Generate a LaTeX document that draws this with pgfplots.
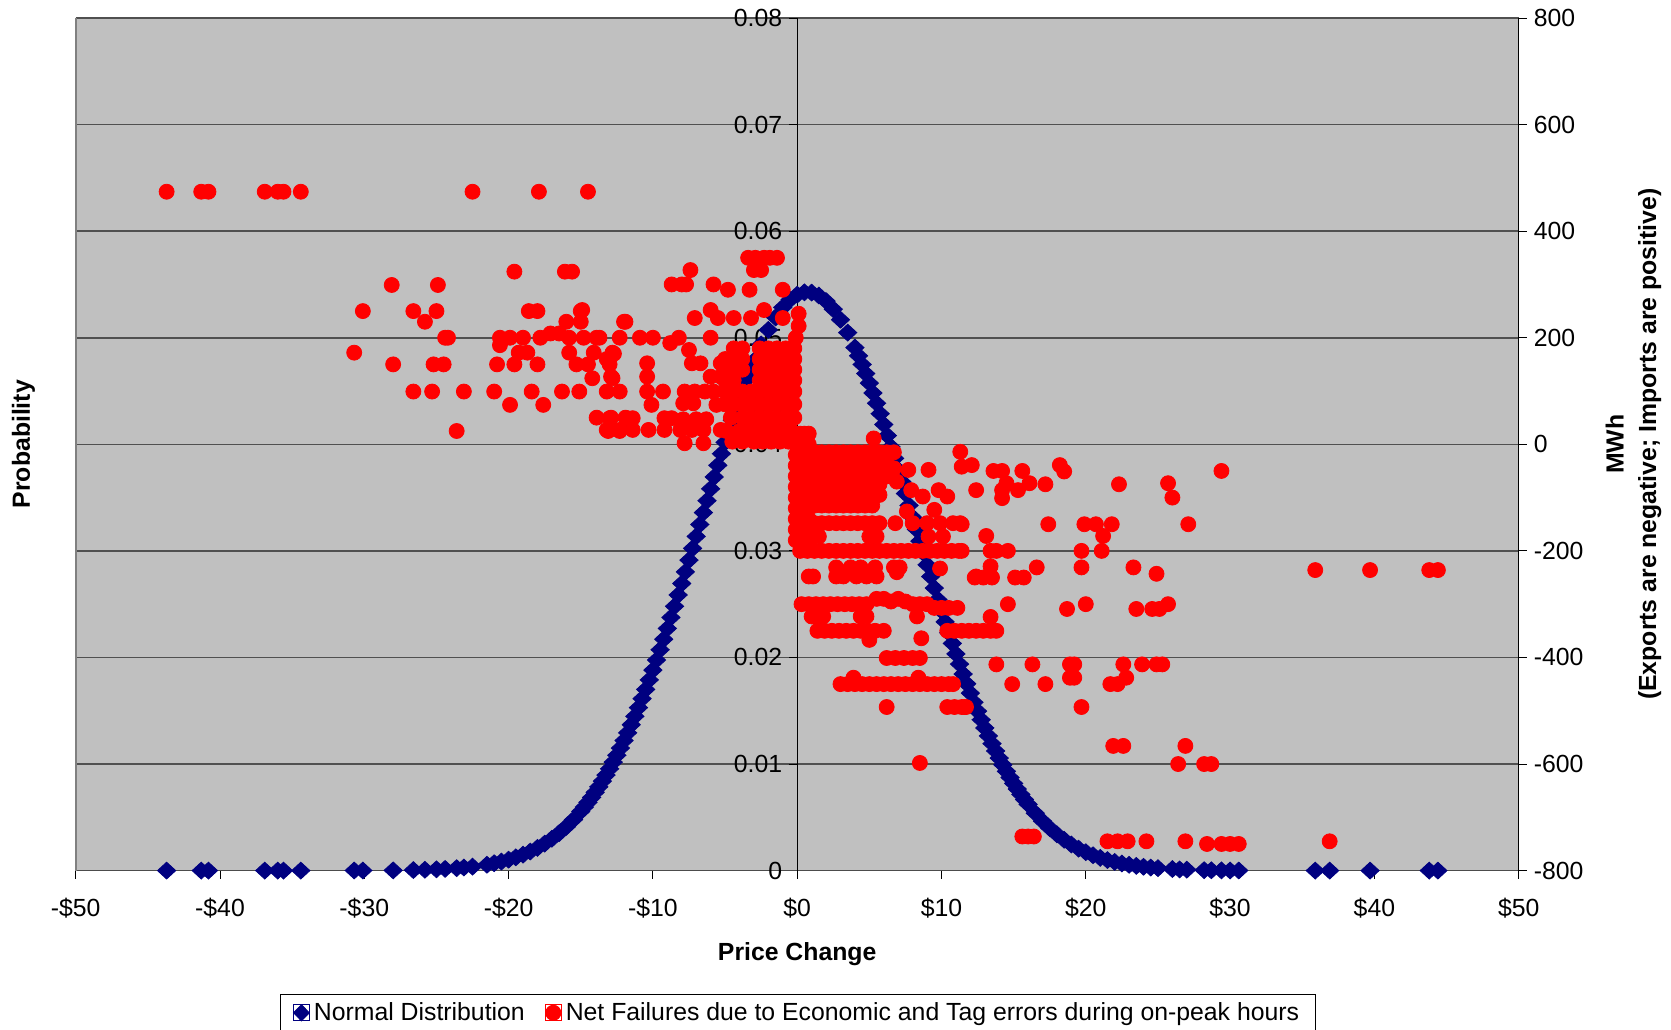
\documentclass[border=0pt]{standalone}
\usepackage{fontspec}
\setmainfont{Liberation Sans}
\usepackage{pgfplots}
\pgfplotsset{compat=1.18}
\definecolor{bgc}{RGB}{192,192,192}
\definecolor{navyb}{RGB}{0,0,128}
\definecolor{gridc}{RGB}{80,80,80}
\definecolor{redc}{RGB}{255,0,0}

\pgfplotstableread{
x y
-43.7 0
-41.3 0
-40.8 0
-36.9 0
-36.0 0
-35.6 0
-34.4 0
-30.7 0.00001
-30.1 0.00001
-28.0 0.00002
-26.6 0.00005
-25.8 0.00008
-25.0 0.00012
-24.4 0.00016
-23.6 0.00023
-23.1 0.00029
-22.5 0.00037
-21.5 0.00055
-21.0 0.000695
-20.5 0.000847
-20.0 0.001029
-19.5 0.001244
-19.0 0.001496
-18.5 0.001790
-18.0 0.002133
-17.5 0.002529
-17.0 0.002988
-16.5 0.003512
-16.0 0.004110
-15.5 0.004784
-15.0 0.005548
-14.75 0.005961
-14.5 0.006400
-14.25 0.006861
-14.0 0.007345
-13.75 0.007860
-13.5 0.008397
-13.25 0.008962
-13.0 0.009553
-12.75 0.010178
-12.5 0.010823
-12.25 0.011497
-12.0 0.012202
-11.75 0.012930
-11.5 0.013689
-11.25 0.014477
-11.0 0.015291
-10.75 0.016132
-10.5 0.017001
-10.25 0.017896
-10.0 0.018813
-9.75 0.019758
-9.5 0.020724
-9.25 0.021712
-9.0 0.022722
-8.75 0.023753
-8.5 0.024801
-8.25 0.025864
-8.0 0.026939
-7.75 0.028030
-7.5 0.029132
-7.25 0.030239
-7.0 0.031358
-6.75 0.032476
-6.5 0.033594
-6.25 0.034712
-6.0 0.035825
-5.75 0.036938
-5.5 0.038029
-5.25 0.039114
-5.0 0.040183
-4.75 0.041237
-4.5 0.042262
-4.25 0.043267
-4.0 0.044244
-3.75 0.045188
-3.5 0.046100
-3.25 0.046979
-3.0 0.047821
-2.5 0.049373
-2.0 0.050736
-1.5 0.051902
-1.0 0.052847
-0.5 0.053563
0.0 0.054036
0.5 0.054260
1.0 0.054235
1.5 0.053960
2.0 0.053439
2.5 0.052679
3.0 0.051686
3.5 0.050480
4.0 0.049075
4.25 0.048304
4.5 0.047490
4.75 0.046637
5.0 0.045742
5.25 0.044814
5.5 0.043853
5.75 0.042870
6.0 0.041855
6.25 0.040819
6.5 0.039760
6.75 0.038685
7.0 0.037594
7.25 0.036492
7.5 0.035380
7.75 0.034267
8.0 0.033149
8.25 0.032031
8.5 0.030912
8.75 0.029800
9.0 0.028692
9.25 0.027591
9.5 0.026510
9.75 0.025436
10.0 0.024377
10.25 0.023340
10.5 0.022315
10.75 0.021316
11.0 0.020333
11.25 0.019378
11.5 0.018444
11.75 0.017532
12.0 0.016653
12.25 0.015790
12.5 0.014965
12.75 0.014156
13.0 0.013385
13.25 0.012636
13.5 0.011914
13.75 0.011225
14.0 0.010557
14.25 0.009928
14.5 0.009314
14.75 0.008734
15.0 0.008180
15.25 0.007653
15.5 0.007149
15.75 0.006671
16.0 0.006221
16.5 0.005385
17.0 0.004641
17.5 0.003984
18.0 0.003403
18.5 0.002893
19.0 0.002447
19.5 0.002061
20.0 0.001728
20.5 0.001442
21.0 0.001197
21.5 0.000990
22.0 0.000815
22.5 0.000667
23.0 0.000544
23.5 0.000442
24.0 0.000357
24.5 0.000287
25.0 0.000230
26.0 0.000145
26.5 0.00011
27.0 0.00009
28.2 0.00004
28.7 0.00003
29.4 0.00002
30.0 0.00001
30.6 0.00001
35.9 0
36.9 0
39.7 0
43.8 0
44.4 0
}\normaldist

\pgfplotstableread{
x y
-43.7 474
-41.3 474
-40.8 474
-36.9 474
-36.0 474
-35.6 474
-34.4 474
-22.5 474
-17.9 474
-14.5 474
-19.6 324
-16.1 324
-15.6 324
-28.1 299
-24.9 299
-30.1 250
-26.6 250
-25.0 250
-25.8 230
-18.6 250
-18.0 250
-15.0 250
-14.9 252
-16.0 230
-15.0 230
-12.0 230
-24.4 200
-24.2 200
-20.6 200
-19.9 200
-19.0 200
-17.8 200
-17.1 208
-16.5 208
-15.8 200
-14.8 200
-13.9 200
-12.3 200
-20.6 186
-19.3 172
-18.7 172
-15.8 172
-14.1 172
-12.8 172
-30.7 172
-28.0 150
-25.2 150
-24.5 150
-20.8 150
-19.6 150
-18.0 150
-15.3 150
-14.5 150
-13.0 150
-14.2 124
-12.8 124
-26.6 99
-25.3 99
-23.1 99
-21.0 99
-18.4 99
-16.3 99
-15.1 99
-13.2 99
-12.3 99
-19.9 74
-17.6 74
-13.9 50
-12.9 50
-11.9 50
-23.6 25
-13.1 25
-12.3 25
-3.4 350
-2.9 350
-2.3 350
-1.9 350
-1.4 350
-3.0 327
-2.5 327
-7.4 327
-8.7 300
-8.0 300
-7.7 300
-5.8 300
-4.8 290
-3.3 290
-1.0 290
-6.0 252
-2.3 252
-7.1 237
-5.5 237
-4.4 237
-3.2 237
-1.0 237
0.1 245
0.1 222
-11.9 230
-0.1 200
-13.7 200
-10.9 200
-10.0 200
-8.8 190
-8.2 200
-6.0 200
-13.2 160
-12.7 170
-10.4 152
-7.5 177
-7.3 152
-6.7 152
-5.3 152
-4.4 152
-12.9 127
-10.4 127
-6.0 127
-5.3 127
-10.4 99
-9.3 99
-7.8 99
-7.1 99
-6.4 99
-5.8 99
-10.1 74
-7.9 77
-7.2 77
-5.6 74
-13.0 49
-11.8 49
-11.4 49
-9.2 49
-8.7 49
-7.9 47
-7.0 47
-6.3 47
-13.2 27
-12.3 27
-11.4 27
-10.3 27
-9.2 27
-8.1 27
-7.3 27
-6.5 27
-5.3 27
-7.8 2
-6.5 2
-4.4 180
-3.8 180
-2.6 180
-2.0 180
-1.4 180
-0.8 180
-0.2 180
-5.0 160
-4.4 160
-3.8 160
-2.6 160
-2.0 160
-1.4 160
-0.8 160
-0.2 160
-5.0 140
-4.4 140
-3.8 140
-2.6 140
-2.0 140
-1.4 140
-0.8 140
-0.2 140
-5.0 120
-4.4 120
-2.6 120
-2.0 120
-1.4 120
-0.8 120
-0.2 120
-5.0 99
-4.4 99
-3.8 99
-3.2 99
-2.6 99
-2.0 99
-1.4 99
-0.8 99
-0.2 99
-5.0 75
-4.4 75
-3.8 75
-3.2 75
-2.6 75
-2.0 75
-1.4 75
-0.8 75
-0.2 75
-4.6 50
-3.8 50
-3.2 50
-2.6 50
-2.0 50
-1.4 50
-0.8 50
-0.2 50
-4.9 25
-4.0 25
-3.4 25
-2.8 25
-2.2 25
-1.6 25
-1.0 25
-0.4 25
-4.5 5
-3.8 5
-3.0 5
-2.4 5
-1.8 5
-1.2 5
-0.6 5
-0.1 20
0.2 20
0.5 20
0.8 20
-0.1 0
0.2 0
0.5 0
0.8 0
-0.1 -20
0.2 -20
0.5 -20
0.8 -20
-0.1 -40
0.2 -40
0.5 -40
0.8 -40
-0.1 -60
0.2 -60
0.5 -60
0.8 -60
-0.1 -80
0.2 -80
0.5 -80
0.8 -80
-0.1 -100
0.2 -100
0.5 -100
0.8 -100
-0.1 -120
0.2 -120
0.5 -120
0.8 -120
-0.1 -140
0.2 -140
0.5 -140
0.8 -140
-0.1 -160
0.2 -160
0.5 -160
0.8 -160
-0.1 -180
0.2 -180
0.5 -180
0.8 -180
1.2 -15
1.7 -15
2.2 -15
2.7 -15
3.2 -15
3.7 -15
4.2 -15
4.7 -15
5.2 -15
5.7 -15
6.2 -15
6.7 -15
1.2 -35
1.7 -35
2.2 -35
2.7 -35
3.2 -35
3.7 -35
4.2 -35
4.7 -35
5.2 -35
5.7 -35
6.2 -35
6.7 -45
1.2 -55
1.7 -55
2.2 -55
2.7 -55
3.2 -55
3.7 -55
4.2 -55
4.7 -55
5.2 -55
5.7 -55
6.2 -60
1.2 -75
1.7 -75
2.2 -75
2.7 -75
3.2 -75
3.7 -75
4.2 -75
4.7 -75
5.2 -75
5.7 -75
1.2 -95
1.7 -95
2.2 -95
2.7 -95
3.2 -95
3.7 -95
4.2 -95
4.7 -95
5.2 -95
5.7 -95
1.2 -115
1.7 -115
2.2 -115
2.7 -115
3.2 -115
3.7 -115
4.2 -115
4.7 -115
5.2 -115
0.2 -148
0.7 -148
1.2 -148
1.7 -148
2.2 -148
2.7 -148
3.2 -148
3.7 -148
4.2 -148
4.7 -148
5.2 -148
5.7 -148
6.8 -148
8.0 -148
9.0 -148
9.9 -148
10.8 -148
11.3 -148
1.0 -173
1.5 -173
5.0 -173
5.5 -173
9.1 -173
10.1 -173
13.1 -172
0.2 -200
0.7 -200
1.2 -200
1.7 -200
2.2 -200
2.7 -200
3.2 -200
3.7 -200
4.2 -200
4.7 -200
5.2 -200
5.7 -200
6.2 -200
6.7 -200
7.2 -200
7.7 -200
8.2 -200
8.7 -200
9.2 -200
9.7 -200
10.2 -200
10.7 -200
11.2 -200
13.4 -200
13.8 -200
14.6 -200
19.7 -200
21.1 -200
5.3 11
7.7 -48
9.1 -48
11.3 -14
11.4 -42
12.1 -39
12.4 -86
6.9 -70
7.9 -86
8.7 -98
9.8 -86
10.4 -98
7.6 -126
9.5 -123
2.7 -231
3.7 -231
4.4 -231
5.4 -231
6.7 -231
7.1 -231
9.9 -233
0.8 -248
1.1 -248
2.7 -248
3.2 -248
4.1 -248
4.8 -248
5.5 -248
6.9 -240
12.4 -248
0.3 -300
0.8 -300
1.3 -300
1.8 -300
2.3 -300
2.8 -300
3.3 -300
3.8 -300
4.3 -300
4.8 -300
5.5 -290
6.0 -290
6.5 -295
7.0 -290
7.5 -295
8.0 -300
8.5 -300
9.0 -300
9.5 -307
10.0 -307
10.5 -307
11.1 -307
1.0 -323
1.4 -323
1.8 -323
4.4 -323
4.8 -323
8.3 -323
1.4 -350
1.9 -350
2.4 -350
2.9 -350
3.4 -350
3.9 -350
4.4 -350
4.9 -350
5.4 -350
6.0 -350
10.4 -350
10.9 -350
11.4 -350
11.9 -350
12.4 -350
12.9 -350
13.4 -350
13.8 -350
5.0 -367
8.6 -364
6.2 -401
6.8 -401
7.4 -401
8.0 -401
8.5 -401
3.0 -450
3.5 -450
4.0 -450
4.5 -450
5.0 -450
5.5 -450
6.0 -450
6.5 -450
7.0 -450
7.5 -450
8.0 -450
8.5 -450
9.0 -450
9.5 -450
10.0 -450
10.5 -450
10.8 -450
3.9 -438
8.4 -438
6.2 -493
10.4 -493
10.9 -493
11.4 -493
11.7 -493
8.5 -598
13.6 -50
14.2 -50
15.6 -50
18.2 -39
18.5 -51
14.5 -73
14.2 -86
15.3 -86
16.1 -73
17.2 -75
14.2 -101
22.3 -75
25.7 -73
26.0 -100
29.4 -50
11.4 -150
17.4 -150
19.9 -150
20.7 -150
21.8 -150
21.2 -172
27.1 -150
11.4 -200
13.4 -229
16.6 -231
19.7 -231
23.3 -231
24.9 -243
12.3 -250
12.9 -250
13.5 -250
15.1 -250
15.7 -250
14.6 -300
18.7 -309
20.0 -300
23.5 -309
24.6 -309
25.1 -309
25.7 -300
13.4 -324
13.8 -413
16.3 -413
18.9 -413
19.2 -413
22.6 -413
23.9 -413
24.9 -413
25.3 -413
14.9 -450
17.2 -450
18.9 -438
19.2 -438
21.7 -450
22.2 -450
22.8 -438
11.6 -493
19.7 -493
21.9 -566
22.6 -566
26.9 -566
26.4 -600
28.2 -600
28.7 -600
15.6 -736
16.0 -736
16.4 -736
21.5 -745
22.2 -745
22.9 -745
24.2 -745
26.9 -745
28.4 -750
29.4 -750
30.0 -750
30.6 -750
36.9 -745
35.9 -236
39.7 -236
43.8 -236
44.4 -236
}\netfailures

\begin{document}
\begin{tikzpicture}[font=\fontsize{12.4}{14.5}\selectfont]
\begin{axis}[
  at={(0pt,0pt)}, anchor=south west,
  scale only axis, width=721.5pt, height=426.3pt,
  xmin=-50, xmax=50, ymin=0, ymax=0.08,
  clip=false,
  axis background/.style={fill=bgc},
  axis x line*=bottom,
  axis y line*=middle,
  x axis line style={-, draw=black!70, line width=0.8pt},
  y axis line style={-, draw=black, line width=0.5pt},
  xtick={-50,-40,-30,-20,-10,0,10,20,30,40,50},
  xticklabels={-\$50,-\$40,-\$30,-\$20,-\$10,\$0,\$10,\$20,\$30,\$40,\$50},
  xticklabel style={yshift=-6pt},
  ytick={0,0.01,0.02,0.03,0.04,0.05,0.06,0.07,0.08},
  yticklabels={0,0.01,0.02,0.03,0.04,0.05,0.06,0.07,0.08},
  ymajorgrids,
  grid style={draw=gridc, line width=0.8pt},
  tick align=outside,
  major tick length=4pt,
  tick style={black, line width=0.5pt},
  hide obscured x ticks=false,
  hide obscured y ticks=false,
  ticklabel style={font=\fontsize{12.4}{14.5}\selectfont},
]
\draw[gray, line width=1pt] (rel axis cs:0,0) -- (rel axis cs:0,1);
\addplot[only marks, mark=diamond*, color=navyb, mark size=4.2pt, mark options={xscale=1.45}] table[x=x,y=y] {\normaldist};
\end{axis}
\begin{axis}[
  at={(0pt,0pt)}, anchor=south west,
  scale only axis, width=721.5pt, height=426.3pt,
  xmin=-50, xmax=50, ymin=-800, ymax=800,
  clip=false,
  axis x line=none,
  axis y line*=right,
  y axis line style={-, draw=black, line width=0.5pt},
  ytick={-800,-600,-400,-200,0,200,400,600,800},
  yticklabels={-800,-600,-400,-200,0,200,400,600,800},
  tick align=outside,
  major tick length=4pt,
  tick style={black, line width=0.5pt},
  ticklabel style={font=\fontsize{12.4}{14.5}\selectfont},
  legend style={at={(axis description cs:0.5006,-0.1445)}, anchor=north,
    draw=black, fill=white, line width=0.5pt,
    legend columns=-1, inner xsep=6pt, inner ysep=2pt,
    font=\fontsize{12.4}{14.5}\selectfont,
    /tikz/every even column/.append style={column sep=8pt}},
  legend image code/.code={\path (-4pt,-4pt) rectangle (4pt,4pt); \draw[#1] plot coordinates {(0pt,0pt)};},
]
\addlegendimage{only marks, mark=diamond*, color=navyb, mark size=4pt, mark options={xscale=1.3}}
\addlegendentry{Normal Distribution}
\addplot[only marks, mark=*, color=redc, mark size=3.75pt] table[x=x,y=y] {\netfailures};
\addlegendentry{Net Failures due to Economic and Tag errors during on-peak hours}
\end{axis}
\node[rotate=90, font=\fontsize{12.4}{14.5}\selectfont\bfseries] at (-26.1pt,213.2pt) {Probability};
\node[font=\fontsize{12.4}{14.5}\selectfont\bfseries] at (360.75pt,-42pt) {Price Change};
\node[rotate=90, font=\fontsize{12.4}{14.5}\selectfont\bfseries] at (769.4pt,213.2pt) {MWh};
\node[rotate=90, font=\fontsize{12.4}{14.5}\selectfont\bfseries] at (787pt,213.2pt) {(Exports are negative; Imports are positive)};
\pgfresetboundingbox
\path[use as bounding box] (-37.85pt,-79.65pt) rectangle (797.65pt,435.3pt);
\end{tikzpicture}
\end{document}
